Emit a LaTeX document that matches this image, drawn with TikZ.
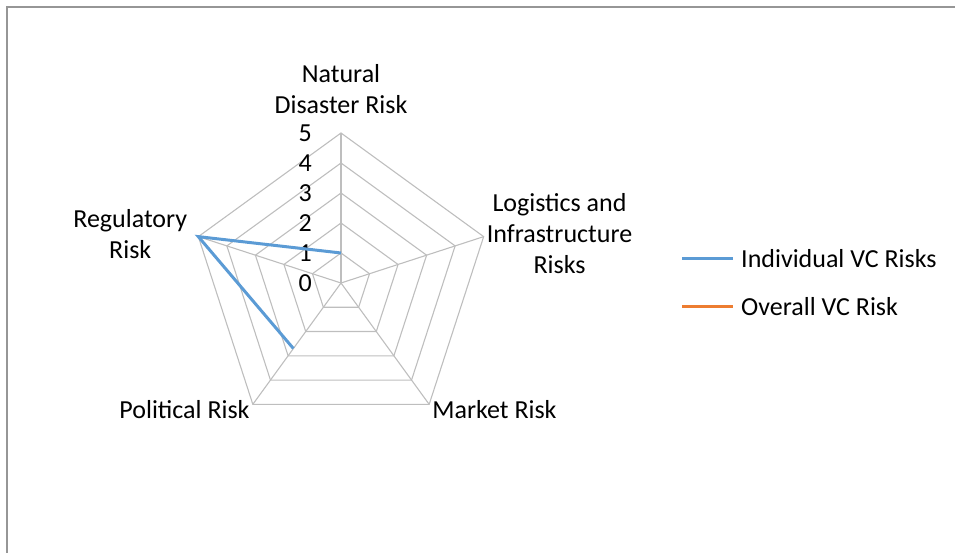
\documentclass[tikz,border=0pt]{standalone}
\usepackage{fontspec}
\setmainfont{Carlito}
\definecolor{riskblue}{RGB}{91,155,213}
\definecolor{riskorange}{RGB}{237,125,49}
\definecolor{webgray}{RGB}{190,190,190}
\definecolor{boxgray}{RGB}{150,150,150}

\begin{document}
\begin{tikzpicture}[x=1pt,y=1pt,
    web/.style={draw=webgray, line width=1.1pt},
    series/.style={line width=3pt},
    txt/.style={font=\fontsize{26}{31}\selectfont, align=center, inner sep=3pt}]
	\useasboundingbox (0,0) rectangle (955,553);
	\draw [boxgray, line width=1.3pt] (7,0) -- (7,546) -- (955,546);
	\begin{scope}[shift={(341,270)}]
		% web
		\foreach \v in {1,...,5}
			\draw [web] (90:{30*\v}) -- (18:{30*\v}) -- (-54:{30*\v}) -- (-126:{30*\v}) -- (162:{30*\v}) -- cycle;
		\foreach \a in {90,18,-54,-126,162}
			\draw [web] (0,0) -- (\a:150);
		% scale
		\foreach \v in {0,...,5}
			\node[txt, anchor=east] (s\v) at (-26,{30*\v}) {\v};
		% data
		\coordinate (nat) at (90:30);
		\coordinate (reg) at (162:150);
		\coordinate (pol) at (-126:81);
		\draw [series, riskblue] (pol) -- (reg) -- (nat);
		% lables
		\node[txt] (lnat) at (0,194) {Natural\\Disaster Risk};
		\node[txt, anchor=west, yshift=3] (llog) at (18:150) {Logistics and\\Infrastructure\\Risks};
		\node[txt, anchor=west, yshift=-5] (lmar) at (-54:150) {Market Risk};
		\node[txt, anchor=east, yshift=-5] (lpol) at (-126:150) {Political Risk};
		\node[txt, anchor=east, xshift=-8, yshift=3] (lreg) at (162:150) {Regulatory\\Risk};
	\end{scope}
	% legend
	\node[txt, anchor=west, inner sep=0pt] (lind) at (741,294) {Individual VC Risks};
	\node[txt, anchor=west, inner sep=0pt] (lall) at (741,246) {Overall VC Risk};
	\coordinate (kind) at (682,294);
	\coordinate (kall) at (682,246);
	\draw [series, riskblue] (kind) -- ([xshift=-8]lind.west);
	\draw [series, riskorange] (kall) -- ([xshift=-8]lall.west);
\end{tikzpicture}
\end{document}
